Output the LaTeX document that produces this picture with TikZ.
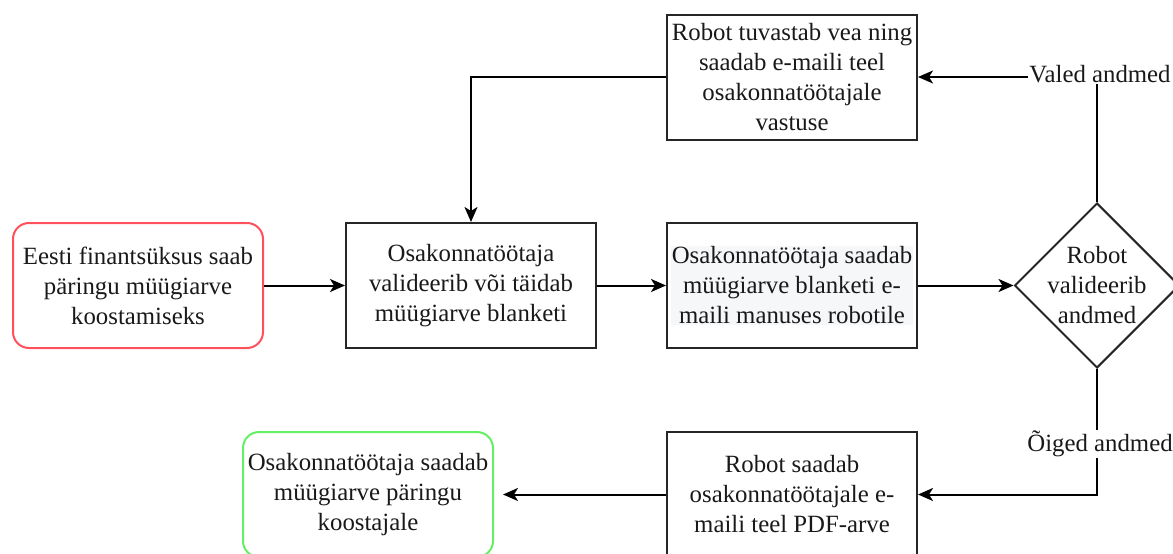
\documentclass[tikz,border=0pt]{standalone}
\usepackage{fontspec}
\setmainfont{Liberation Serif}
\usetikzlibrary{shapes.geometric,arrows.meta}
\definecolor{redb}{RGB}{255,80,92}
\definecolor{greenb}{RGB}{100,240,100}
\definecolor{txtbg}{RGB}{246,247,249}
\begin{document}
\begin{tikzpicture}[x=1pt,y=-1pt,
  every node/.style={font=\fontsize{24.8}{30}\selectfont, align=center, text=black!90},
  box/.style={draw=black!85, line width=2pt, minimum width=250pt, minimum height=125pt, inner sep=0pt},
  rbox/.style={box, rounded corners=16pt},
  arr/.style={line width=2pt, -{Stealth[length=15pt,width=13pt,inset=4pt]}},
  lbl/.style={fill=white, inner sep=1pt}
]
\useasboundingbox (0,0) rectangle (1173,554);
\node[rbox, draw=redb] (start) at (138,285.5) {Eesti finantsüksus saab\\päringu müügiarve\\koostamiseks};
\node[box] (val) at (471,285.5) {Osakonnatöötaja\\valideerib või täidab\\müügiarve blanketi};
\node[box] (send) at (792,285.5) {};
\node[fill=txtbg, inner sep=1pt] (sendtxt) at (send.center) {Osakonnatöötaja saadab\\müügiarve blanketi e-\\maili manuses robotile};
\node[diamond, draw=black!85, line width=2pt, minimum width=165pt, minimum height=165pt, inner sep=0pt] (dec) at (1097,285.5) {};
\node (dectxt) at (dec.center) {Robot\\valideerib\\andmed};
\node[box] (err) at (792,77) {Robot tuvastab vea ning\\saadab e-maili teel\\osakonnatöötajale\\vastuse};
\node[box] (pdf) at (792,494.5) {Robot saadab\\osakonnatöötajale e-\\maili teel PDF-arve};
\node[rbox, draw=greenb] (end) at (368,494.5) {Osakonnatöötaja saadab\\müügiarve päringu\\koostajale};

\draw[arr] (start) -- (val);
\draw[arr] (val) -- (send);
\draw[arr] (send) -- (dec);
\draw[arr] (dec.north) |- (err.east);
\draw[arr] (err.west) -| (val.north);
\draw[arr] (dec.south) |- (pdf.east);
\draw[arr, shorten >=9pt] (pdf.west) -- (end.east);

\node[lbl] (valed) at (1100,74) {Valed andmed};
\node[lbl] (oiged) at (1100,444) {Õiged andmed};
\end{tikzpicture}
\end{document}
